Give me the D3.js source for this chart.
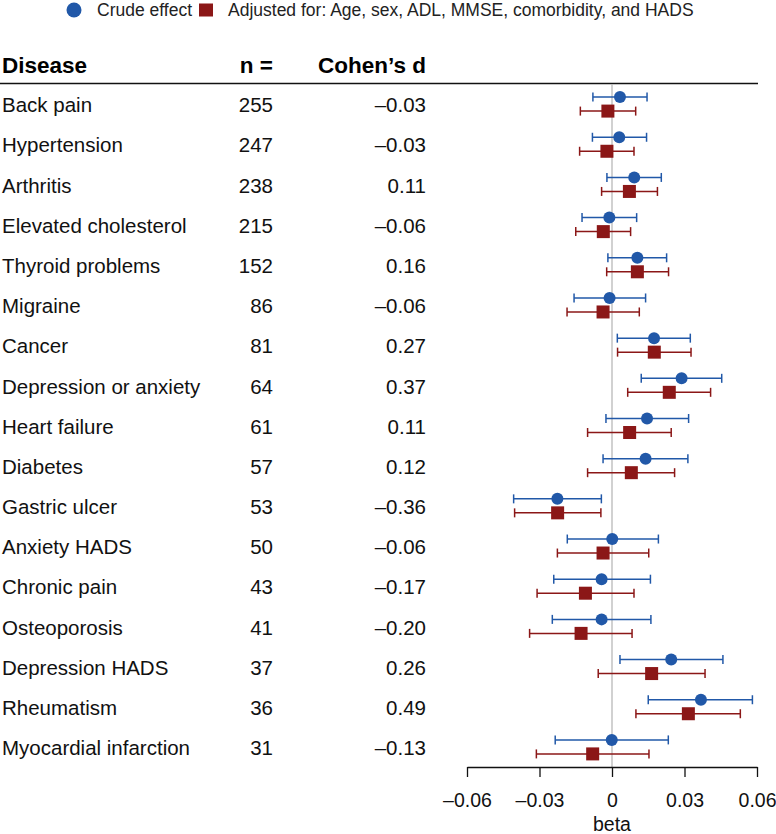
<!DOCTYPE html>
<html>
<head>
<meta charset="utf-8">
<script src="https://cdn.jsdelivr.net/npm/d3@7"></script>
<style>
  body { margin: 0; background: #fff; }
  svg text { font-family: "Liberation Sans", Arial, Helvetica, sans-serif; }
</style>
</head>
<body>
<div id="chart"></div>
<script>
//Chart dimensions
var width = 776,
    height = 834;

//Data
var diseases = ["Back pain", "Hypertension", "Arthritis", "Elevated cholesterol", "Thyroid problems",
  "Migraine", "Cancer", "Depression or anxiety", "Heart failure", "Diabetes", "Gastric ulcer",
  "Anxiety HADS", "Chronic pain", "Osteoporosis", "Depression HADS", "Rheumatism", "Myocardial infarction"];
var nCounts = [255, 247, 238, 215, 152, 86, 81, 64, 61, 57, 53, 50, 43, 41, 37, 36, 31];
var cohensD = ["–0.03", "–0.03", "0.11", "–0.06", "0.16", "–0.06", "0.27", "0.37", "0.11", "0.12",
  "–0.36", "–0.06", "–0.17", "–0.20", "0.26", "0.49", "–0.13"];

var crudeEst = [0.0033, 0.0030, 0.0092, -0.0011, 0.0105, -0.0010, 0.0174, 0.0288, 0.0145, 0.0139,
  -0.0226, 0.0001, -0.0043, -0.0043, 0.0245, 0.0368, -0.0001];
var crudeLo = [-0.0079, -0.0081, -0.0021, -0.0124, -0.0017, -0.0157, 0.0022, 0.0121, -0.0025, -0.0037,
  -0.0407, -0.0185, -0.0241, -0.0247, 0.0033, 0.0150, -0.0235];
var crudeHi = [0.0145, 0.0143, 0.0204, 0.0102, 0.0226, 0.0139, 0.0324, 0.0454, 0.0317, 0.0314,
  -0.0044, 0.0192, 0.0159, 0.0161, 0.0459, 0.0581, 0.0233];

var adjEst = [-0.0017, -0.0021, 0.0072, -0.0036, 0.0105, -0.0037, 0.0175, 0.0237, 0.0073, 0.0080,
  -0.0225, -0.0037, -0.0110, -0.0128, 0.0164, 0.0316, -0.0080];
var adjLo = [-0.0131, -0.0134, -0.0043, -0.0150, -0.0022, -0.0186, 0.0023, 0.0065, -0.0101, -0.0101,
  -0.0403, -0.0226, -0.0310, -0.0341, -0.0057, 0.0099, -0.0313];
var adjHi = [0.0098, 0.0091, 0.0188, 0.0077, 0.0234, 0.0113, 0.0327, 0.0408, 0.0245, 0.0259,
  -0.0046, 0.0152, 0.0091, 0.0083, 0.0385, 0.0531, 0.0153];

var xTicks = [-0.06, -0.03, 0, 0.03, 0.06];
var xTickLabels = ["–0.06", "–0.03", "0", "0.03", "0.06"];

var blue = "#2158a8",
    red = "#8b1717";

var rows = diseases.map(function(d, i) {
  return {name: d, n: nCounts[i], d: cohensD[i],
          crude: [crudeEst[i], crudeLo[i], crudeHi[i]],
          adj: [adjEst[i], adjLo[i], adjHi[i]]};
});

var svg = d3.select("#chart").append("svg")
  .attr("width", width)
  .attr("height", height);

//Scales
var x = d3.scaleLinear().domain([-0.06, 0.06]).range([467, 757]);
var y = d3.scaleBand().domain(diseases).range([84, 767]).paddingInner(0).paddingOuter(0);
var rowY = function(d) { return y(d) + y.bandwidth() / 2; };

//Legend
var legend = svg.append("g").attr("transform", "translate(0,10)");
legend.append("circle").attr("cx", 74).attr("cy", 0).attr("r", 7.5).attr("fill", blue);
legend.append("text").attr("x", 97).attr("y", 0).attr("dy", "0.35em")
  .attr("font-size", 17.5).attr("fill", "#222")
  .text("Crude effect");
legend.append("rect").attr("x", 199).attr("y", -6.5).attr("width", 14).attr("height", 13).attr("fill", red);
legend.append("text").attr("x", 228).attr("y", 0).attr("dy", "0.35em")
  .attr("font-size", 17.5).attr("fill", "#222")
  .text("Adjusted for: Age, sex, ADL, MMSE, comorbidity, and HADS");

//Header
var header = svg.append("g").attr("font-size", 22.5).attr("font-weight", "bold").attr("fill", "#000");
header.append("text").attr("x", 2).attr("y", 73).text("Disease");
header.append("text").attr("x", 273).attr("y", 73).attr("text-anchor", "end").text("n =");
header.append("text").attr("x", 426).attr("y", 73).attr("text-anchor", "end").text("Cohen\u2019s d");
svg.append("line").attr("x1", 0).attr("x2", 758).attr("y1", 83.5).attr("y2", 83.5)
  .attr("stroke", "#111").attr("stroke-width", 1.3);

//Zero reference line
svg.append("line").attr("x1", x(0)).attr("x2", x(0)).attr("y1", 84).attr("y2", 767)
  .attr("stroke", "#b8b8b8").attr("stroke-width", 1.3);

//Table rows
var row = svg.selectAll(".row").data(rows).enter().append("g")
  .attr("class", "row")
  .attr("transform", function(d) { return "translate(0," + rowY(d.name) + ")"; });

row.append("text").attr("x", 2).attr("y", 1).attr("dy", "0.35em").attr("font-size", 20.5).attr("fill", "#111")
  .text(function(d) { return d.name; });
row.append("text").attr("x", 273).attr("y", 1).attr("dy", "0.35em").attr("font-size", 20.5).attr("fill", "#111")
  .attr("text-anchor", "end").text(function(d) { return d.n; });
row.append("text").attr("x", 426).attr("y", 1).attr("dy", "0.35em").attr("font-size", 20.5).attr("fill", "#111")
  .attr("text-anchor", "end").text(function(d) { return d.d; });

//Error bars with caps
function errorBar(sel, key, dy, color) {
  var g = sel.append("g").attr("transform", "translate(0," + dy + ")")
    .attr("stroke", color).attr("stroke-width", 1.5);
  g.append("line").attr("x1", function(d) { return x(d[key][1]); })
    .attr("x2", function(d) { return x(d[key][2]); });
  g.append("line").attr("x1", function(d) { return x(d[key][1]); })
    .attr("x2", function(d) { return x(d[key][1]); }).attr("y1", -4.5).attr("y2", 4.5);
  g.append("line").attr("x1", function(d) { return x(d[key][2]); })
    .attr("x2", function(d) { return x(d[key][2]); }).attr("y1", -4.5).attr("y2", 4.5);
  return g;
}

errorBar(row, "crude", -7, blue).append("circle")
  .attr("cx", function(d) { return x(d.crude[0]); }).attr("r", 6)
  .attr("fill", blue).attr("stroke", "none");

errorBar(row, "adj", 7, red).append("rect")
  .attr("x", function(d) { return x(d.adj[0]) - 6.5; }).attr("y", -6.5)
  .attr("width", 13).attr("height", 13)
  .attr("fill", red).attr("stroke", "none");

//X axis
var axis = svg.append("g").attr("transform", "translate(0,767)")
  .call(d3.axisBottom(x).tickValues(xTicks).tickFormat(function(d, i) { return xTickLabels[i]; })
    .tickSize(10).tickSizeOuter(0).tickPadding(16));
axis.select(".domain").attr("stroke", "#111").attr("stroke-width", 1.3);
axis.selectAll(".tick line").attr("stroke", "#111").attr("stroke-width", 1.3);
axis.selectAll(".tick text").attr("font-size", 19.5).attr("fill", "#111")
  .attr("font-family", "'Liberation Sans', Arial, sans-serif");

svg.append("text").attr("x", x(0)).attr("y", 831).attr("text-anchor", "middle")
  .attr("font-size", 19.5).attr("fill", "#111").text("beta");
</script>
</body>
</html>
